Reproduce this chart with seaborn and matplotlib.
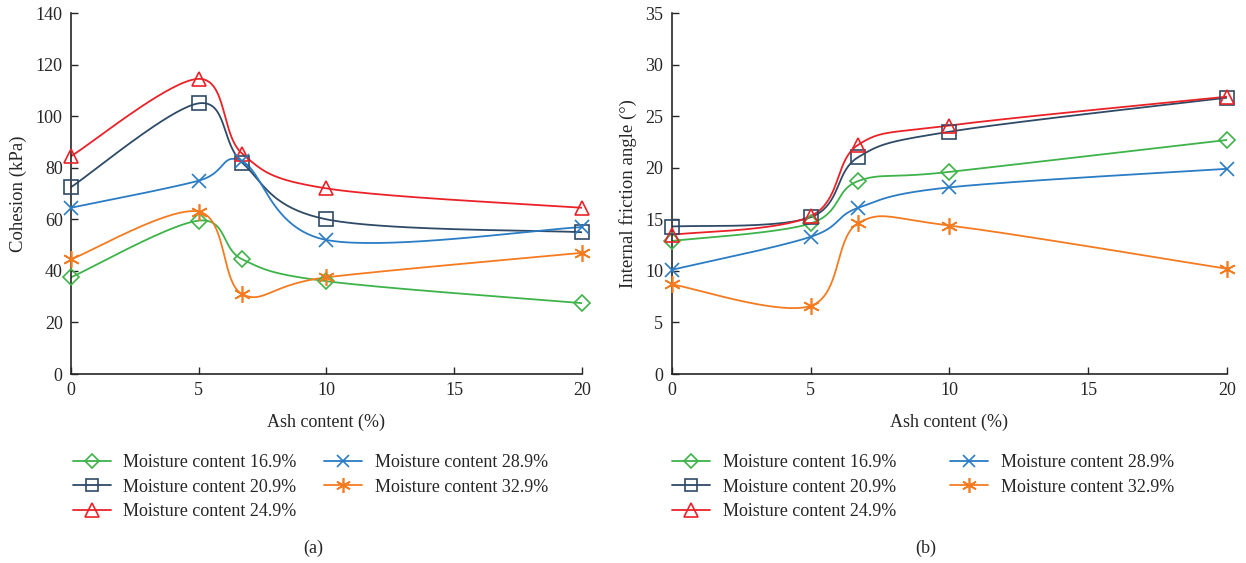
import numpy as np
import matplotlib
matplotlib.use("Agg")
import matplotlib.pyplot as plt
import seaborn as sns
from matplotlib.lines import Line2D

# ---- data ----
ash = [0, 5, 6.7, 10, 20]
series = ["Moisture content 16.9%", "Moisture content 20.9%", "Moisture content 24.9%",
          "Moisture content 28.9%", "Moisture content 32.9%"]

cohesion_169 = [37.5, 59.5, 44.5, 36.0, 27.5]
cohesion_209 = [72.5, 105.0, 82.0, 60.0, 55.0]
cohesion_249 = [84.5, 114.5, 85.5, 72.0, 64.5]
cohesion_289 = [64.5, 75.0, 82.5, 52.0, 57.0]
cohesion_329 = [44.5, 63.0, 31.0, 37.5, 47.0]

friction_169 = [12.9, 14.6, 18.7, 19.6, 22.7]
friction_209 = [14.3, 15.2, 21.0, 23.5, 26.8]
friction_249 = [13.5, 15.3, 22.2, 24.1, 26.9]
friction_289 = [10.1, 13.3, 16.1, 18.1, 19.9]
friction_329 = [8.7, 6.6, 14.6, 14.4, 10.2]

colors = ["#3db34a", "#2f4a66", "#ea2228", "#2a7cc4", "#f47b20"]
markers = ["D", "s", "^", "x", (6, 2, 0)]
msizes = [8, 10, 10.5, 10, 12]

sns.set_style("ticks")
plt.rcParams['font.family'] = ['Liberation Serif', 'DejaVu Serif']


def smooth(x, y, n=40):
    # Excel-style smoothed line: bezier segments, control points from neighbours
    p = np.column_stack([x, y]).astype(float)
    pts = []
    for i in range(len(p) - 1):
        p0 = p[i - 1] if i > 0 else p[i]
        p3 = p[i + 2] if i + 2 < len(p) else p[i + 1]
        c1 = p[i] + (p[i + 1] - p0) / 6
        c2 = p[i + 1] - (p3 - p[i]) / 6
        t = np.linspace(0, 1, n)[:, None]
        seg = ((1 - t) ** 3 * p[i] + 3 * (1 - t) ** 2 * t * c1
               + 3 * (1 - t) * t ** 2 * c2 + t ** 3 * p[i + 1])
        pts.append(seg if i == 0 else seg[1:])
    pts = np.vstack(pts)
    return pts[:, 0], pts[:, 1]


fig = plt.figure(figsize=(12.46, 5.63), dpi=100)
ax1 = fig.add_axes([0.057, 0.3357, 0.410, 0.641])
ax2 = fig.add_axes([0.539, 0.3357, 0.446, 0.641])

panels = [
    (ax1, [cohesion_169, cohesion_209, cohesion_249, cohesion_289, cohesion_329],
     "Cohesion (kPa)", 140, 20),
    (ax2, [friction_169, friction_209, friction_249, friction_289, friction_329],
     "Internal friction angle (°)", 35, 5),
]

for ax, data, ylabel, ymax, ystep in panels:
    for vals, c, m, ms in zip(data, colors, markers, msizes):
        cx, cy = smooth(ash, vals)
        sns.lineplot(x=cx, y=cy, sort=False, estimator=None, color=c, lw=1.3, ax=ax)
        ax.plot(ash, vals, ls="none", marker=m, ms=ms, mfc="none",
                mec=c, mew=1.2, clip_on=False, zorder=3)
    ax.set_xlim(0, 20)
    ax.set_ylim(0, ymax)
    ax.set_xticks([0, 5, 10, 15, 20])
    ax.set_yticks(np.arange(0, ymax + 1, ystep))
    ax.tick_params(direction="in", labelsize=13, length=5, width=1, pad=6)
    ax.set_xlabel("Ash content (%)", fontsize=13, labelpad=10)
    ax.set_ylabel(ylabel, fontsize=13.5, labelpad=6)
    sns.despine(ax=ax)
    for s in ["left", "bottom"]:
        ax.spines[s].set_linewidth(1.2)

handles = [Line2D([0], [0], color=c, lw=1.3, marker=m, ms=ms * 0.9, mfc="none", mec=c, mew=1.2)
           for c, m, ms in zip(colors, markers, msizes)]

leg_kw = dict(loc="upper left", ncol=2, frameon=False, fontsize=13, handlelength=2.1,
              labelspacing=0.42, handletextpad=0.7)
fig.legend(handles, series, bbox_to_anchor=(0.0455, 0.2225), columnspacing=1.5, **leg_kw)
fig.legend(handles, series, bbox_to_anchor=(0.5265, 0.2225), columnspacing=3.0, **leg_kw)

fig.text(313 / 1246, 1 - 548 / 563, "(a)", ha="center", va="center", fontsize=13)
fig.text(926 / 1246, 1 - 548 / 563, "(b)", ha="center", va="center", fontsize=13)

fig.savefig("out.png", dpi=100)
